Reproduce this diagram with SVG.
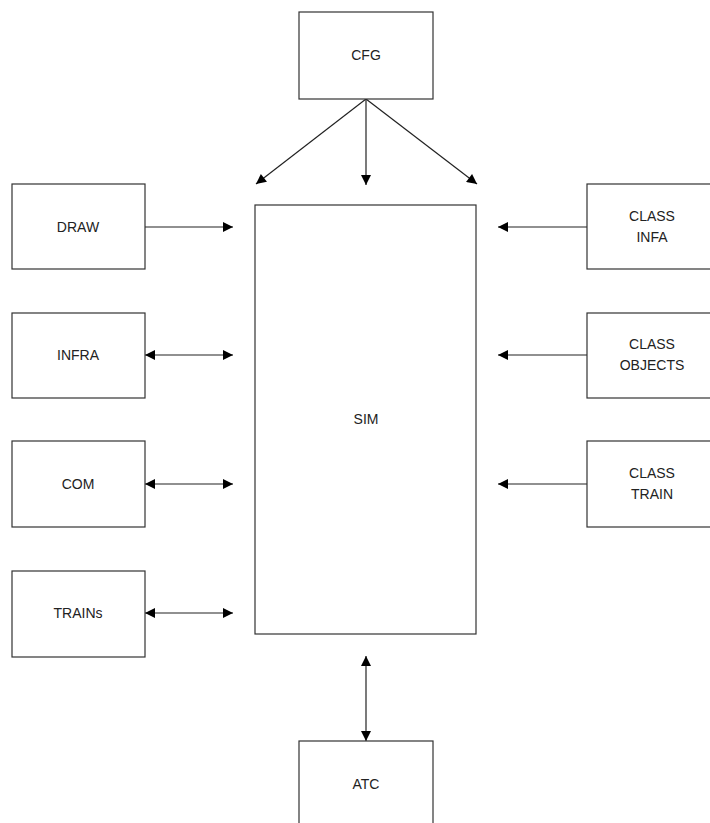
<svg xmlns="http://www.w3.org/2000/svg" width="710" height="823" viewBox="0 0 710 823">
<style>
.box{fill:#fff;stroke:#333;stroke-width:1.2}
.lbl{font-family:"Liberation Sans",Arial,sans-serif;font-size:14px;fill:#222;text-anchor:middle}
.con{stroke:#222;stroke-width:1.2;fill:none}
</style>
<defs>
<marker id="ah" viewBox="0 0 10 10" refX="10" refY="5" markerWidth="13" markerHeight="10" markerUnits="userSpaceOnUse" orient="auto-start-reverse">
<path d="M0,0 L10,5 L0,10 Z" fill="#000"/>
</marker>
</defs>
<rect width="710" height="823" fill="#fff"/>
<g id="connectors">
<line class="con" x1="366" y1="99" x2="256" y2="184" marker-end="url(#ah)"/>
<line class="con" x1="366" y1="99" x2="366" y2="185" marker-end="url(#ah)"/>
<line class="con" x1="366" y1="99" x2="477" y2="184" marker-end="url(#ah)"/>
<line class="con" x1="145" y1="227" x2="233" y2="227" marker-end="url(#ah)"/>
<line class="con" x1="145" y1="355" x2="233" y2="355" marker-start="url(#ah)" marker-end="url(#ah)"/>
<line class="con" x1="145" y1="484" x2="233" y2="484" marker-start="url(#ah)" marker-end="url(#ah)"/>
<line class="con" x1="145" y1="613" x2="233" y2="613" marker-start="url(#ah)" marker-end="url(#ah)"/>
<line class="con" x1="587" y1="227" x2="498" y2="227" marker-end="url(#ah)"/>
<line class="con" x1="587" y1="355" x2="498" y2="355" marker-end="url(#ah)"/>
<line class="con" x1="587" y1="484" x2="498" y2="484" marker-end="url(#ah)"/>
<line class="con" x1="366" y1="656" x2="366" y2="741" marker-start="url(#ah)" marker-end="url(#ah)"/>
</g>
<g id="cfg"><rect class="box" x="299" y="12" width="134" height="87"/><text class="lbl" x="366" y="60">CFG</text></g>
<g id="sim"><rect class="box" x="255" y="205" width="221" height="429"/><text class="lbl" x="366" y="424">SIM</text></g>
<g id="draw"><rect class="box" x="12" y="184" width="133" height="85"/><text class="lbl" x="78" y="232">DRAW</text></g>
<g id="infra"><rect class="box" x="12" y="313" width="133" height="85"/><text class="lbl" x="78" y="360">INFRA</text></g>
<g id="com"><rect class="box" x="12" y="441" width="133" height="86"/><text class="lbl" x="78" y="489">COM</text></g>
<g id="trains"><rect class="box" x="12" y="571" width="133" height="86"/><text class="lbl" x="78" y="618">TRAINs</text></g>
<g id="class-infa"><rect class="box" x="587" y="184" width="133" height="85"/><text class="lbl" x="652" y="221">CLASS</text><text class="lbl" x="652" y="242">INFA</text></g>
<g id="class-objects"><rect class="box" x="587" y="313" width="133" height="85"/><text class="lbl" x="652" y="349">CLASS</text><text class="lbl" x="652" y="370">OBJECTS</text></g>
<g id="class-train"><rect class="box" x="587" y="441" width="133" height="86"/><text class="lbl" x="652" y="478">CLASS</text><text class="lbl" x="652" y="499">TRAIN</text></g>
<g id="atc"><rect class="box" x="299" y="741" width="134" height="100"/><text class="lbl" x="366" y="789">ATC</text></g>
</svg>
